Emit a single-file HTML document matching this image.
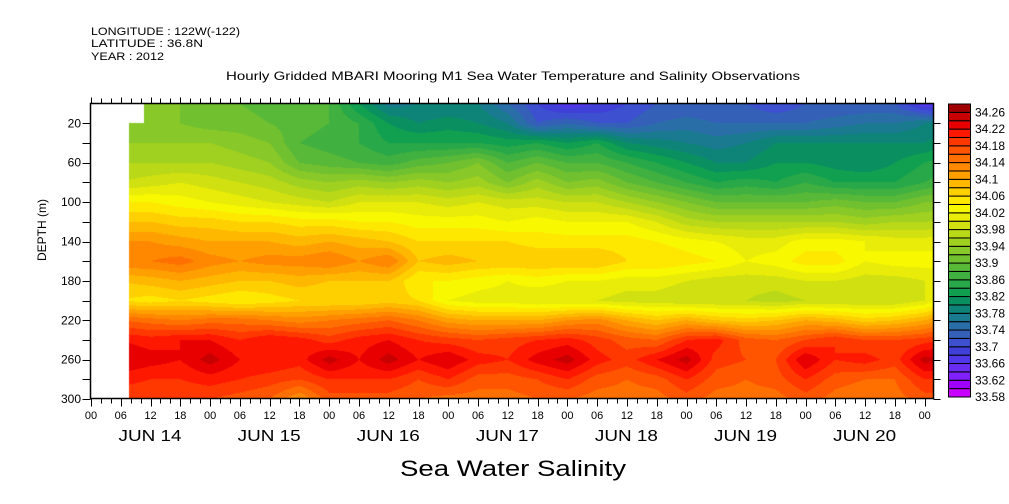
<!DOCTYPE html>
<html><head><meta charset="utf-8"><style>
html,body{margin:0;padding:0;background:#fff;}
body{width:1009px;height:504px;position:relative;overflow:hidden;font-family:"Liberation Sans",sans-serif;}
#chart{position:absolute;left:0;top:0;}
canvas{position:absolute;left:91px;top:104px;}
</style></head><body>
<canvas id="heat" width="842" height="295"></canvas>
<svg id="chart" width="1009" height="504" font-family="Liberation Sans, sans-serif"></svg>
<script>
// ---- data ----
const depths = [0,20,40,60,80,100,120,140,160,180,200,220,240,260,280,300];
const hours = [6,12,18,24,30,36,42,48,54,60,66,72,78,84,90,96,102,108,114,120,126,132,138,144,150,156,162,168,174];
const sal0 = [33.94,33.93,33.92,33.91,33.90,33.89,33.88,33.88,33.82,33.77, 33.78,33.78,33.78,33.74,33.70,33.66,33.68,33.70,33.72, 33.72,33.72,33.72,33.70,33.72,33.72,33.72,33.72,33.66,33.64];
const sal20 = [33.93,33.93,33.92,33.91,33.91,33.90,33.89,33.88,33.86,33.82, 33.80,33.81,33.80,33.78,33.72,33.74,33.72,33.72,33.74, 33.75,33.74,33.74,33.74,33.74,33.75,33.76,33.76,33.78,33.78];
const sal40 = [33.94,33.94,33.94,33.94,33.93,33.92,33.88,33.87,33.86,33.84, 33.84,33.84,33.84,33.83,33.84,33.82,33.84,33.80,33.79, 33.78,33.77,33.78,33.80,33.80,33.80,33.80,33.80,33.80,33.82];
const sal60 = [33.96,33.96,33.96,33.96,33.95,33.94,33.90,33.89,33.88,33.87, 33.89,33.90,33.92,33.88,33.90,33.88,33.88,33.86,33.84, 33.82,33.80,33.80,33.82,33.82,33.81,33.80,33.82,33.84,33.86];
const sal80 = [33.98,33.99,34.00,33.99,33.98,33.97,33.95,33.94,33.95,33.94, 33.95,33.94,33.95,33.92,33.95,33.92,33.93,33.90,33.88, 33.86,33.84,33.85,33.84,33.86,33.84,33.84,33.84,33.86,33.88];
const sal100 = [34.04,34.04,34.03,34.02,34.01,34.00,33.99,33.98,34.00,34.00, 34.00,33.99,34.00,33.99,33.99,33.98,33.98,33.96,33.94, 33.92,33.90,33.90,33.90,33.90,33.91,33.90,33.90,33.92,33.92];
const sal120 = [34.08,34.08,34.07,34.07,34.06,34.06,34.05,34.05,34.04,34.04, 34.03,34.03,34.03,34.02,34.03,34.02,34.02,34.02,34.00, 33.97,33.96,33.96,33.96,33.96,33.96,33.95,33.96,33.96,33.97];
const sal140 = [34.12,34.12,34.11,34.10,34.10,34.10,34.09,34.10,34.09,34.08, 34.06,34.06,34.06,34.06,34.05,34.05,34.05,34.05,34.04, 34.03,34.02,34.01,34.01,34.03,34.03,34.02,34.01,34.01,34.01];
const sal160 = [34.14,34.14,34.15,34.13,34.12,34.13,34.13,34.14,34.12,34.14, 34.08,34.09,34.08,34.08,34.08,34.08,34.08,34.06,34.06, 34.05,34.04,34.02,34.03,34.05,34.05,34.02,34.03,34.03,34.03];
const sal180 = [34.08,34.09,34.10,34.09,34.08,34.08,34.09,34.08,34.08,34.08, 34.04,34.04,34.03,34.02,34.03,34.02,34.02,34.01,34.01, 34.00,33.99,33.99,33.99,34.00,34.00,33.99,33.99,34.00,34.01];
const sal200 = [34.06,34.05,34.06,34.05,34.04,34.05,34.06,34.06,34.06,34.07, 34.06,34.02,34.01,34.01,34.00,34.00,34.00,33.99,33.99, 33.98,33.98,33.98,33.97,33.98,33.98,33.98,33.98,34.00,34.06];
const sal220 = [34.16,34.15,34.14,34.15,34.15,34.14,34.13,34.14,34.15,34.16, 34.14,34.11,34.10,34.10,34.10,34.12,34.13,34.10,34.08, 34.10,34.08,34.07,34.08,34.10,34.09,34.07,34.08,34.10,34.14];
const sal240 = [34.22,34.21,34.22,34.22,34.20,34.22,34.21,34.19,34.21,34.22, 34.20,34.19,34.18,34.19,34.20,34.21,34.19,34.17,34.16, 34.20,34.21,34.17,34.16,34.18,34.20,34.18,34.18,34.19,34.21];
const sal260 = [34.24,34.23,34.22,34.25,34.22,34.22,34.21,34.25,34.22,34.25, 34.22,34.24,34.21,34.20,34.23,34.25,34.21,34.19,34.22, 34.25,34.19,34.18,34.18,34.24,34.20,34.21,34.19,34.25,34.24];
const sal280 = [34.21,34.20,34.20,34.21,34.20,34.19,34.18,34.20,34.20,34.20, 34.18,34.20,34.17,34.17,34.18,34.20,34.17,34.16,34.17, 34.20,34.17,34.16,34.17,34.20,34.17,34.16,34.16,34.20,34.20];
const sal300 = [34.18,34.18,34.18,34.18,34.17,34.16,34.12,34.17,34.17,34.17, 34.16,34.15,34.15,34.15,34.16,34.16,34.15,34.15,34.15, 34.17,34.15,34.15,34.15,34.17,34.15,34.14,34.15,34.17,34.17];
const grid = [sal0,sal20,sal40,sal60,sal80,sal100,sal120,sal140,sal160,sal180,sal200,sal220,sal240,sal260,sal280,sal300];
const levelLabels = ["33.58","33.62","33.66","33.7","33.74","33.78","33.82","33.86","33.9","33.94","33.98","34.02","34.06","34.1","34.14","34.18","34.22","34.26"];
const dayLabels = ["JUN 14","JUN 15","JUN 16","JUN 17","JUN 18","JUN 19","JUN 20"];
const depthTicks = [20,60,100,140,180,220,260,300];
const palette = ["#c800ff","#a000ff","#8020ff","#6a2cf0","#5038e8","#4040d8","#3c50d0","#3460b8","#2a6ea8","#1a7a90","#0e8478","#0a9060","#10a050","#28a848","#40b040","#58b838","#70c030","#88c828","#a0d020","#b8d818","#d0e010","#e8ec08","#f8f800","#ffe800","#ffd000","#ffb800","#ffa000","#ff8800","#ff7000","#ff5400","#ff3800","#ff1800","#e80000","#c80000","#a00000"];
const vMin = 33.58, vStep = 0.02;

// ---- axes ----
const X0 = 91, PXD = 119.1;
const xOf = h => X0 + h / 24 * PXD;
const yOf = d => 123.3 + (d - 20) * 0.985;
const L = 90.5, R = 933.5, T = 103.5, B = 398.5;

// ---- heat canvas ----
const cv = document.getElementById('heat');
const ctx = cv.getContext('2d');
const img = ctx.createImageData(cv.width, cv.height);
const rgb = palette.map(c => [parseInt(c.substr(1,2),16),parseInt(c.substr(3,2),16),parseInt(c.substr(5,2),16)]);
function interp(h, d) {
  let i = 0; while (i < hours.length - 2 && hours[i+1] < h) i++;
  let j = 0; while (j < depths.length - 2 && depths[j+1] < d) j++;
  let tx = (h - hours[i]) / (hours[i+1] - hours[i]); tx = Math.max(0, Math.min(1, tx));
  let ty = (d - depths[j]) / (depths[j+1] - depths[j]); ty = Math.max(0, Math.min(1, ty));
  const a = grid[j][i], b = grid[j][i+1], c = grid[j+1][i], e = grid[j+1][i+1];
  return (a*(1-tx)+b*tx)*(1-ty) + (c*(1-tx)+e*tx)*ty;
}
for (let py = 0; py < cv.height; py++) {
  const Y = py + 104 + 0.5;
  const d = (Y - 123.3) / 0.985 + 20;
  for (let px = 0; px < cv.width; px++) {
    const X = px + 91 + 0.5;
    const k = (py * cv.width + px) * 4;
    if (X < 129 || (X < 144 && Y < 123)) { img.data[k]=255;img.data[k+1]=255;img.data[k+2]=255;img.data[k+3]=255; continue; }
    const h = (X - X0) / PXD * 24;
    const v = interp(h, d);
    let ci = Math.floor((v - vMin) / vStep + 1e-6);
    ci = Math.max(0, Math.min(palette.length - 1, ci));
    const c = rgb[ci];
    img.data[k]=c[0];img.data[k+1]=c[1];img.data[k+2]=c[2];img.data[k+3]=255;
  }
}
ctx.putImageData(img, 0, 0);

// ---- svg ----
const svg = document.getElementById('chart');
const NS = 'http://www.w3.org/2000/svg';
function mk(tag, attrs, text) {
  const el = document.createElementNS(NS, tag);
  for (const k in attrs) el.setAttribute(k, attrs[k]);
  if (text !== undefined) el.textContent = text;
  svg.appendChild(el); return el;
}
let el;
el = mk('text', {x:91, y:35, 'font-size':11, textLength:149, lengthAdjust:'spacingAndGlyphs'}, 'LONGITUDE : 122W(-122)');


el = mk('text', {x:91, y:47, 'font-size':11, textLength:112, lengthAdjust:'spacingAndGlyphs'}, 'LATITUDE : 36.8N');


el = mk('text', {x:91, y:60, 'font-size':11, textLength:73, lengthAdjust:'spacingAndGlyphs'}, 'YEAR : 2012');


el = mk('text', {x:226, y:80, 'font-size':12, textLength:574, lengthAdjust:'spacingAndGlyphs'}, 'Hourly Gridded MBARI Mooring M1 Sea Water Temperature and Salinity Observations');


el = mk('text', {x:400, y:476, 'font-size':22, textLength:226, lengthAdjust:'spacingAndGlyphs'}, 'Sea Water Salinity');


el = mk('text', {x:0, y:0, 'font-size':12, 'text-anchor':'middle', transform:'translate(46,230) rotate(-90)'}, 'DEPTH (m)');



el = mk('rect', {x:L, y:T, width:R-L, height:B-T, fill:'none', stroke:'#000', 'stroke-width':1.5});



for (let h = 0; h <= 170; h += 2) {
  const x = Math.round(xOf(h)) + 0.5;
  if (x > R + 0.5) break;
  const major = h % 6 === 0;
  el = mk('line', {x1:x, x2:x, y1:B, y2:B + (major ? 8 : 5), stroke:'#000', 'stroke-width':1});
  
  
  el = mk('line', {x1:x, x2:x, y1:T, y2:T - (major ? 6 : 5), stroke:'#000', 'stroke-width':1});
  
  
  if (major) {
    const lab = String(h % 24).padStart(2, '0');
    el = mk('text', {x:xOf(h), y:419, 'font-size':11, 'text-anchor':'middle'}, lab);
    
    
  }
}
dayLabels.forEach((lab, i) => {
  el = mk('text', {x:xOf(i*24+12)-32, y:441, 'font-size':16, textLength:63, lengthAdjust:'spacingAndGlyphs'}, lab);
  
  
});
for (let d = 20; d <= 300; d += 20) {
  const y = Math.round(yOf(d)) + 0.5;
  el = mk('line', {x1:L-8, x2:L, y1:y, y2:y, stroke:'#000', 'stroke-width':1});
  
  
  el = mk('line', {x1:R, x2:R+7, y1:y, y2:y, stroke:'#000', 'stroke-width':1});
  
  
}
depthTicks.forEach(d => {
  el = mk('text', {x:81, y:yOf(d)+4, 'font-size':12, 'text-anchor':'end'}, String(d));
  
  
});
const cbTop = 104, cbBot = 397, nb = palette.length, bh = (cbBot - cbTop) / nb;
palette.forEach((c, i) => {
  const y = cbBot - (i + 1) * bh;
  el = mk('rect', {x:948.5, y:y, width:22, height:bh, fill:c, stroke:'#000', 'stroke-width':1});
  
  
});
levelLabels.forEach((lab, i) => {
  const y = cbBot - 2 * i * bh;
  el = mk('text', {x:975, y:y + 4, 'font-size':12}, lab);
  
  
});
</script>
</body></html>
